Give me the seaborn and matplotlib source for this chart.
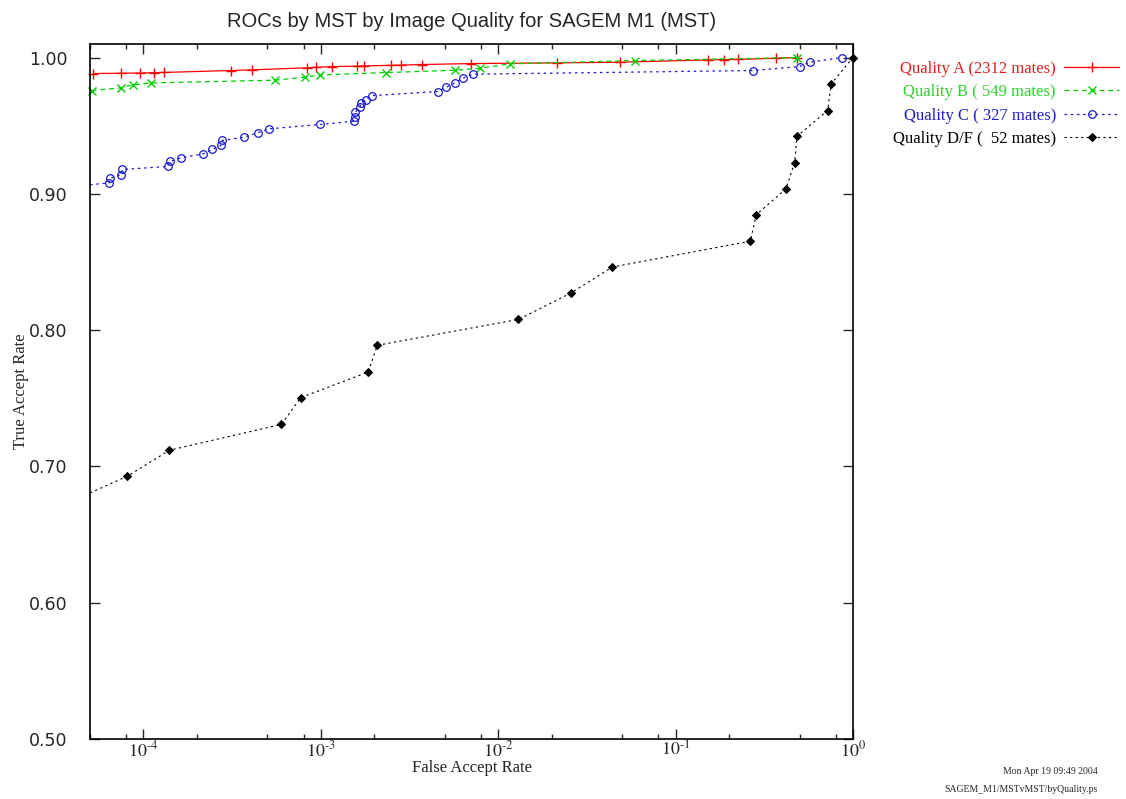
import math
import matplotlib
matplotlib.use("Agg")
import matplotlib.pyplot as plt
import matplotlib.ticker as mticker
import seaborn as sns

# ROC points (false accept rate, true accept rate)
fa_a = [5.2e-5, 7.5e-5, 9.6e-5, 1.15e-4, 1.31e-4, 3.1e-4, 4.1e-4, 8.4e-4, 9.4e-4, 1.16e-3,
        1.6e-3, 1.76e-3, 2.5e-3, 2.83e-3, 3.7e-3, 7.0e-3, 0.0214, 0.0488, 0.153, 0.188,
        0.226, 0.369, 0.483]
ta_a = [0.9883, 0.9885, 0.9887, 0.9889, 0.9891, 0.9905, 0.991, 0.9925, 0.9928, 0.9934,
        0.9937, 0.9939, 0.9943, 0.9945, 0.9949, 0.9956, 0.9961, 0.9966, 0.9983, 0.9985,
        0.9987, 0.9995, 1.0]

fa_b = [5.1e-5, 7.5e-5, 8.7e-5, 1.1e-4, 5.5e-4, 8.1e-4, 9.9e-4, 2.33e-3, 5.7e-3, 7.9e-3,
        0.0116, 0.059, 0.483]
ta_b = [0.9758, 0.9778, 0.980, 0.9814, 0.9834, 0.9856, 0.9873, 0.989, 0.9907, 0.9922,
        0.9954, 0.9978, 1.0]

fa_c = [5e-5, 6.4e-5, 6.5e-5, 7.5e-5, 7.6e-5, 1.37e-4, 1.41e-4, 1.63e-4, 2.17e-4, 2.44e-4,
        2.73e-4, 2.78e-4, 3.7e-4, 4.4e-4, 5.1e-4, 9.9e-4, 1.53e-3, 1.55e-3, 1.56e-3, 1.66e-3,
        1.68e-3, 1.8e-3, 1.94e-3, 4.56e-3, 5.1e-3, 5.7e-3, 6.3e-3, 7.2e-3, 0.272, 0.50,
        0.569, 0.867]
ta_c = [0.9067, 0.9081, 0.9115, 0.9142, 0.9179, 0.9201, 0.9238, 0.9265, 0.9294, 0.9326,
        0.9355, 0.9392, 0.9416, 0.9448, 0.9477, 0.9509, 0.9533, 0.9562, 0.9599, 0.9636,
        0.9668, 0.9692, 0.9721, 0.9751, 0.9782, 0.9814, 0.9848, 0.9878, 0.9905, 0.9934,
        0.9966, 1.0]

fa_d = [5e-5, 8.1e-5, 1.4e-4, 6.0e-4, 7.7e-4, 1.85e-3, 2.08e-3, 0.013, 0.0257, 0.044,
        0.264, 0.285, 0.419, 0.469, 0.483, 0.719, 0.755, 1.0]
ta_d = [0.6806, 0.6928, 0.7119, 0.7309, 0.7505, 0.7693, 0.7889, 0.8079, 0.8272, 0.8463,
        0.8653, 0.8847, 0.9037, 0.9228, 0.9421, 0.9611, 0.9807, 1.0]

labels = ["Quality A (2312 mates)", "Quality B ( 549 mates)",
          "Quality C ( 327 mates)", "Quality D/F (  52 mates)"]
text_colors = ["#e02020", "#30d030", "#2020c0", "#000000"]

sns.set_style("ticks")
plt.rcParams["font.family"] = ["DejaVu Sans"]
plt.rcParams["mathtext.fontset"] = "stix"

fig = plt.figure(figsize=(11.26, 7.99), dpi=100)
ax = fig.add_axes([0.080, 0.075, 0.6775, 0.870])

# seaborn paints marker edges white by default, so set them explicitly
sns.lineplot(x=fa_a, y=ta_a, ax=ax, sort=False, estimator=None, color="#ff0000",
             linestyle="-", linewidth=0.9, marker="+", markersize=7, markeredgewidth=1,
             markeredgecolor="#ff0000", label=labels[0], clip_on=False)
sns.lineplot(x=fa_b, y=ta_b, ax=ax, sort=False, estimator=None, color="#00d000",
             linestyle=(0, (4, 3)), linewidth=0.9, marker="x", markersize=6,
             markeredgewidth=1, markeredgecolor="#00d000", label=labels[1], clip_on=False)
sns.lineplot(x=fa_c, y=ta_c, ax=ax, sort=False, estimator=None, color="#1a1ad0",
             linestyle=(0, (2, 3)), linewidth=0.9, marker="o", markersize=5.5,
             markerfacecolor="none", markeredgecolor="#1a1ad0", markeredgewidth=0.9,
             markevery=slice(1, None), label=labels[2], clip_on=False)
sns.lineplot(x=fa_d, y=ta_d, ax=ax, sort=False, estimator=None, color="#000000",
             linestyle=(0, (2, 3)), linewidth=0.8, marker="D", markersize=4,
             markeredgecolor="#000000", markevery=slice(1, None), label=labels[3],
             clip_on=False)

ax.set_xscale("log")
ax.set_xlim(5e-5, 1.0)
ax.set_ylim(0.50, 1.01)

ax.xaxis.set_major_locator(mticker.LogLocator(base=10, numticks=10))
ax.xaxis.set_minor_locator(mticker.LogLocator(base=10, subs=[2, 5, 8], numticks=10))
ax.xaxis.set_minor_formatter(mticker.NullFormatter())
ax.xaxis.set_major_formatter(mticker.FuncFormatter(
    lambda v, p: r"$10^{\text{-}%d}$" % -round(math.log10(v)) if v < 0.5 else r"$10^{0}$"))
ax.yaxis.set_major_locator(mticker.MultipleLocator(0.1))
ax.yaxis.set_major_formatter(mticker.FormatStrFormatter("%.2f"))

ax.tick_params(which="both", direction="in", top=True, right=True, width=1)
ax.tick_params(which="major", length=7)
ax.tick_params(which="minor", length=3.5)
ax.tick_params(axis="x", labelsize=13, pad=1)
ax.tick_params(axis="y", labelsize=12.5, pad=16)
for s in ax.spines.values():
    s.set_linewidth(1.2)
    s.set_color("black")

ax.set_xlabel("False Accept Rate", family="Liberation Serif", fontsize=12, labelpad=0)
ax.set_ylabel("True Accept Rate", family="Liberation Serif", fontsize=12, labelpad=0)
ax.set_title("ROCs by MST by Image Quality for SAGEM M1 (MST)",
             family="Liberation Sans", fontsize=14.5, pad=12)

leg = ax.legend(loc="upper right", bbox_to_anchor=(1.0, 1 - 54 / 799),
                bbox_transform=fig.transFigure, frameon=False, markerfirst=False,
                prop={"family": "Liberation Serif", "size": 12}, handlelength=3.3,
                handletextpad=0.5, labelspacing=0.45, borderaxespad=0)
for txt, c in zip(leg.get_texts(), text_colors):
    txt.set_color(c)

fig.text(0.975, 1 - 772 / 799, "Mon Apr 19 09:49 2004", ha="right", va="center",
         family="Liberation Serif", fontsize=7)
fig.text(0.975, 1 - 789 / 799, "SAGEM_M1/MSTvMST/byQuality.ps", ha="right", va="center",
         family="Liberation Serif", fontsize=7)

fig.savefig("out.png", dpi=100)
